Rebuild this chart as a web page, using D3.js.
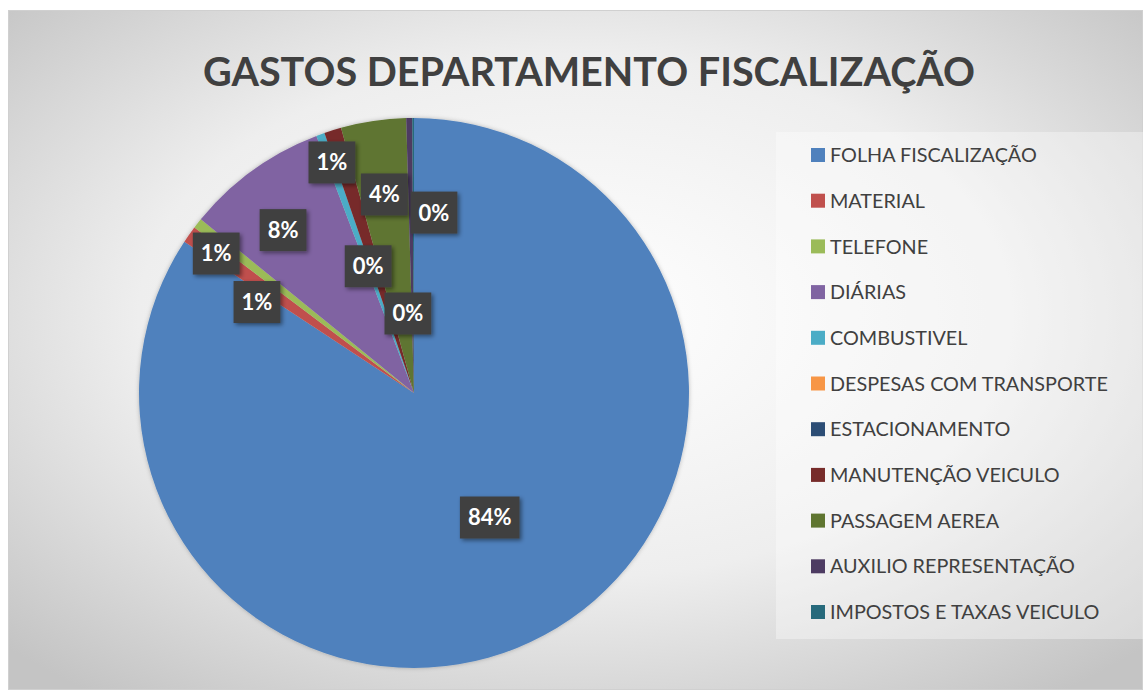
<!DOCTYPE html>
<html>
<head>
<meta charset="utf-8">
<script src="https://d3js.org/d3.v7.min.js"></script>
<style>
  html, body { margin: 0; padding: 0; background: #fff; }
  svg { display: block; }
</style>
</head>
<body>
<script>
// chart data
var title = 'GASTOS DEPARTAMENTO FISCALIZAÇÃO';
var categories = [
  'FOLHA FISCALIZAÇÃO', 'MATERIAL', 'TELEFONE', 'DIÁRIAS', 'COMBUSTIVEL',
  'DESPESAS COM TRANSPORTE', 'ESTACIONAMENTO', 'MANUTENÇÃO VEICULO',
  'PASSAGEM AEREA', 'AUXILIO REPRESENTAÇÃO', 'IMPOSTOS E TAXAS VEICULO'
];
var values = [83.8, 1.0, 0.6, 8.3, 0.49, 0, 0, 1.0, 3.8, 0.35, 0.1];
var colors = [
  '#4f81bd', '#c0504d', '#9bbb59', '#8064a2', '#4bacc6', '#f79646',
  '#2c4d75', '#772c2a', '#5f7530', '#4d3b62', '#276a7c'
];

// label placement tweaks (degrees off the slice middle, fraction of radius)
var labelShift = [-3, 0, -8, -3, 0, 0, 0, -2.4, 0, -3.4, 6.5];
var labelRadius = [0.53, 0.88, 0.66, 0.76, 0.49, 0.5, 0.5, 0.89, 0.73, 0.29, 0.66];

var W = 1143, H = 690;
var svg = d3.select('body').append('svg').attr('width', W).attr('height', H);
var defs = svg.append('defs');

var bg = defs.append('radialGradient').attr('id', 'bg')
  .attr('cx', '50%').attr('cy', '45%').attr('r', '70%');
bg.append('stop').attr('offset', '0%').attr('stop-color', '#ffffff');
bg.append('stop').attr('offset', '55%').attr('stop-color', '#eeeeee');
bg.append('stop').attr('offset', '100%').attr('stop-color', '#c4c4c4');

var sh = defs.append('filter').attr('id', 'shadow')
  .attr('x', '-30%').attr('y', '-30%').attr('width', '160%').attr('height', '160%');
sh.append('feDropShadow').attr('dx', 2).attr('dy', 2).attr('stdDeviation', 2)
  .attr('flood-color', '#000').attr('flood-opacity', 0.45);

var pieSh = defs.append('filter').attr('id', 'pieshadow')
  .attr('x', '-10%').attr('y', '-10%').attr('width', '120%').attr('height', '120%');
pieSh.append('feDropShadow').attr('dx', 0).attr('dy', 0).attr('stdDeviation', 2)
  .attr('flood-color', '#000').attr('flood-opacity', 0.25);

// chart area
svg.append('rect').attr('x', 8.5).attr('y', 10.5).attr('width', W - 9).attr('height', H - 11)
  .attr('fill', 'url(#bg)').attr('stroke', '#d0d0d0');

// title
var titleText = svg.append('text')
  .attr('x', 589).attr('y', 86)
  .attr('text-anchor', 'middle')
  .style('font-family', 'Lato, "Open Sans", sans-serif')
  .style('font-weight', 'bold')
  .style('font-size', '44px')
  .attr('fill', '#404040')
  .text(title);
var tw = titleText.node().getComputedTextLength();
titleText.style('font-size', (44 * 772 / tw) + 'px');

// pie
var cx = 414, cy = 393, R = 275;
var data = categories.map(function (c, i) { return { name: c, value: values[i], i: i }; });
var total = d3.sum(values);

var pie = d3.pie().sort(null).value(function (d) { return d.value; });
var arc = d3.arc().innerRadius(0).outerRadius(R);
var arcs = pie(data);

var g = svg.append('g').attr('transform', 'translate(' + cx + ',' + cy + ')');
g.append('g').attr('filter', 'url(#pieshadow)')
  .selectAll('path')
  .data(arcs)
  .enter()
  .append('path')
  .attr('d', arc)
  .attr('fill', function (d) { return colors[d.data.i]; });

// data labels
var fmt = d3.format('.0%');
var labels = g.selectAll('.lbl')
  .data(arcs.filter(function (d) { return d.data.value > 0; }))
  .enter()
  .append('g')
  .attr('class', 'lbl')
  .attr('transform', function (d) {
    var i = d.data.i;
    var a = (d.startAngle + d.endAngle) / 2 + labelShift[i] * Math.PI / 180;
    var r = labelRadius[i] * R;
    return 'translate(' + (Math.sin(a) * r) + ',' + (-Math.cos(a) * r) + ')';
  });

labels.append('text')
  .attr('text-anchor', 'middle')
  .attr('dy', '0.36em')
  .style('font-family', 'Lato, "Open Sans", sans-serif')
  .style('font-weight', 'bold')
  .style('font-size', '22px')
  .attr('fill', '#ffffff')
  .text(function (d) { return fmt(d.data.value / total); });

labels.each(function () {
  var gg = d3.select(this);
  var bb = gg.select('text').node().getBBox();
  gg.insert('rect', 'text')
    .attr('x', bb.x - 8).attr('y', -21)
    .attr('width', bb.width + 16).attr('height', 42)
    .attr('fill', '#404040')
    .attr('filter', 'url(#shadow)');
});

// legend
var legend = svg.append('g');
legend.append('rect')
  .attr('x', 776).attr('y', 132).attr('width', W - 776).attr('height', 507)
  .attr('fill', '#ffffff').attr('fill-opacity', 0.35);

var ly = d3.scalePoint().domain(categories).range([155, 612]);
var items = legend.selectAll('.item')
  .data(categories)
  .enter()
  .append('g')
  .attr('class', 'item')
  .attr('transform', function (d) { return 'translate(811,' + ly(d) + ')'; });

items.append('rect')
  .attr('x', 0).attr('y', -7).attr('width', 14).attr('height', 14)
  .attr('fill', function (d, i) { return colors[i]; });
items.append('text')
  .attr('x', 19).attr('dy', '0.36em')
  .style('font-family', 'Lato, "Open Sans", sans-serif')
  .style('font-size', '19.8px')
  .attr('fill', '#404040')
  .text(function (d) { return d; });
</script>
</body>
</html>
